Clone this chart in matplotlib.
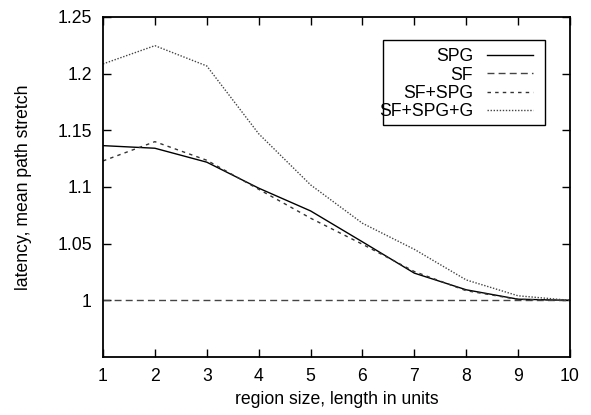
import matplotlib
matplotlib.use("Agg")
import matplotlib.pyplot as plt
from matplotlib.patches import Rectangle
from matplotlib.ticker import FuncFormatter

plt.rcParams['font.family'] = ['Liberation Sans', 'DejaVu Sans']

x = [1, 2, 3, 4, 5, 6, 7, 8, 9, 10]
spg = [1.1365, 1.1342, 1.1219, 1.099, 1.0789, 1.0516, 1.024, 1.0093, 1.001, 1.0]
sf = [1.0, 1.0, 1.0, 1.0, 1.0, 1.0, 1.0, 1.0, 1.0, 1.0]
sf_spg = [1.123, 1.140, 1.1236, 1.098, 1.0725, 1.0495, 1.0254, 1.0085, 1.0008, 1.0]
sf_spg_g = [1.2086, 1.2247, 1.2068, 1.147, 1.1019, 1.068, 1.045, 1.018, 1.004, 1.0]
labels = ["SPG", "SF", "SF+SPG", "SF+SPG+G"]
xticks = [1, 2, 3, 4, 5, 6, 7, 8, 9, 10]
yticks = [1.0, 1.05, 1.1, 1.15, 1.2, 1.25]

FS = 12.7
fig = plt.figure(figsize=(5.91, 4.15), dpi=100)
ax = fig.add_axes([103/591, 58/415, 467/591, 340/415])

ax.plot(x, spg, color='black', lw=1.0, ls='-', label=labels[0])
ax.plot(x, sf, color='#444444', lw=1.0, ls=(0, (5, 3)), label=labels[1])
ax.plot(x, sf_spg, color='#333333', lw=1.0, ls=(0, (2.5, 3)), label=labels[2])
ax.plot(x, sf_spg_g, color='#444444', lw=1.0, ls=(0, (1, 1.2)), label=labels[3])

ax.set_xlim(1, 10)
ax.set_ylim(0.95, 1.25)
ax.set_xticks(xticks)
ax.set_yticks(yticks)
ax.yaxis.set_major_formatter(FuncFormatter(lambda v, p: f"{v:g}"))
ax.tick_params(direction='in', top=True, right=True, length=6, width=1.0,
               labelsize=FS, pad=8)
for s in ax.spines.values():
    s.set_linewidth(1.3)

ax.set_xlabel("region size, length in units", fontsize=FS, labelpad=4)
ax.set_ylabel("latency, mean path stretch", fontsize=FS, labelpad=18)

leg = ax.legend(loc='upper right', bbox_to_anchor=(0.921, 0.9085), markerfirst=False,
                frameon=False, fontsize=FS, handlelength=2.6, labelspacing=0.08,
                handletextpad=0.8, borderaxespad=0, borderpad=0)
ax.add_patch(Rectangle(((383-103)/467, (357-125)/340), (545-383)/467, (125-40)/340,
                       transform=ax.transAxes, fill=False, ec='black', lw=1.0, zorder=5))

fig.savefig("out.png", dpi=100)
